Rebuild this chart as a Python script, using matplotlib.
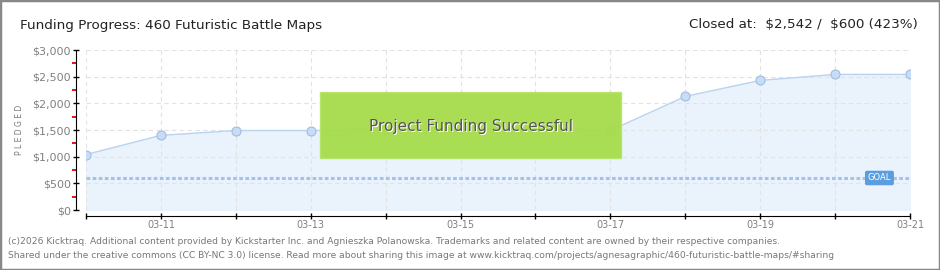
import matplotlib.pyplot as plt
import matplotlib.dates as mdates
from matplotlib.patches import Rectangle
from matplotlib.ticker import FuncFormatter, MultipleLocator
import datetime as dt

# data
days = ["2026-03-10", "2026-03-11", "2026-03-12", "2026-03-13", "2026-03-14",
        "2026-03-15", "2026-03-16", "2026-03-17", "2026-03-18", "2026-03-19",
        "2026-03-20", "2026-03-21"]
pledged = [1040, 1400, 1490, 1490, 1510, 1520, 1520, 1490, 2130, 2430, 2542, 2542]
goal = 600
title = "Funding Progress: 460 Futuristic Battle Maps"
closed = r"Closed at:  \$2,542 /  \$600 (423%)"
footer1 = ("(c)2026 Kicktraq. Additional content provided by Kickstarter Inc. and Agnieszka Polanowska. "
           "Trademarks and related content are owned by their respective companies.")
footer2 = ("Shared under the creative commons (CC BY-NC 3.0) license. Read more about sharing this image at "
           "www.kicktraq.com/projects/agnesagraphic/460-futuristic-battle-maps/#sharing")

x = [dt.datetime.strptime(d, "%Y-%m-%d") for d in days]

fig = plt.figure(figsize=(9.4, 2.7), dpi=100)
ax = fig.add_axes([86/940, 1-210/270, (910-86)/940, 160/270])

ax.fill_between(x, pledged, color="#eaf3fc", zorder=1)
ax.plot(x, pledged, color="#b8d4f0", lw=1, zorder=2)
ax.plot(x, pledged, "o", ms=6.5, mfc="#c8ddf5", mec="#9fbde0", mew=0.8, zorder=3)
ax.axhline(goal, color="#a2c4e8", lw=2.2, ls=(0, (1.2, 0.8)), zorder=2)

ax.set_xlim(x[0], x[-1])
ax.set_ylim(0, 3000)
ax.yaxis.set_major_locator(MultipleLocator(500))
ax.yaxis.set_minor_locator(MultipleLocator(250))
ax.yaxis.set_major_formatter(FuncFormatter(lambda v, p: "${:,.0f}".format(v)))
ax.xaxis.set_major_locator(mdates.DayLocator(bymonthday=[11, 13, 15, 17, 19, 21]))
ax.xaxis.set_minor_locator(mdates.DayLocator())
ax.xaxis.set_major_formatter(mdates.DateFormatter("%m-%d"))

ax.grid(True, which="both", color="#e2e2e2", ls=(0, (4, 3)), lw=0.8, zorder=0)
ax.grid(False, axis="y", which="minor")
for s in ["top", "right"]:
    ax.spines[s].set_visible(False)
ax.spines["left"].set_position(("outward", 7))
ax.spines["bottom"].set_position(("outward", 4.3))
ax.spines["left"].set_color("black")
ax.spines["bottom"].set_color("black")
ax.tick_params(axis="y", which="major", length=4, width=1, color="black", direction="inout",
               labelsize=8, labelcolor="#808080", pad=2)
ax.tick_params(axis="y", which="minor", length=3, width=1.3, color="#e00000", direction="out")
ax.tick_params(axis="x", which="both", length=4, width=1, color="black", direction="inout",
               labelsize=7, labelcolor="#808080", pad=1)

fig.text(20/940, 1-130/270, "P L E D G E D", rotation=90, ha="center", va="center", fontsize=5.5, color="#777777")

# goal tag
ax.annotate("GOAL", xy=(1.0, goal), xycoords=("axes fraction", "data"), xytext=(-22, 0),
            textcoords="offset points", ha="center", va="center", fontsize=6, color="white",
            bbox=dict(boxstyle="round,pad=0.25,rounding_size=0.15", fc="#5b9ee0", ec="#5b9ee0"), zorder=5)

# success banner
fig.patches.append(Rectangle((320/940, 1-158/270), 301/940, 66/270, transform=fig.transFigure,
                             fc="#a6dc4a", ec="#b8e46a", lw=1, alpha=0.95, zorder=6))
fig.text(471/940 + 0.001, 1-126/270 - 0.004, "Project Funding Successful", ha="center", va="center",
         fontsize=11, color="white", zorder=7)
fig.text(471/940, 1-126/270, "Project Funding Successful", ha="center", va="center",
         fontsize=11, color="#555555", zorder=8)

fig.text(20/940, 1-25/270, title, ha="left", va="center", fontsize=9.7, color="#222222")
fig.text(918/940, 1-25/270, closed, ha="right", va="center", fontsize=9.7, color="#222222")
fig.text(8/940, 1-242/270, footer1, ha="left", va="center", fontsize=6.6, color="#777777")
fig.text(8/940, 1-256/270, footer2, ha="left", va="center", fontsize=6.6, color="#777777")

fig.patches.append(Rectangle((0, 0), 1, 1, transform=fig.transFigure, fill=False, ec="#888888", lw=2.5))

fig.savefig("out.png", dpi=100)
